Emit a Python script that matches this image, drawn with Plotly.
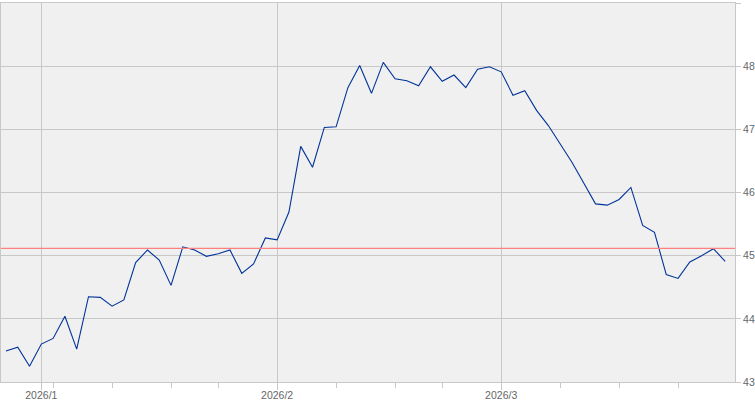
import plotly.graph_objects as go

# trading days, 2025/12/29 .. 2026/3/27
dates = [
    "2025-12-29", "2025-12-30", "2025-12-31",
    "2026-01-02", "2026-01-05", "2026-01-06", "2026-01-07", "2026-01-08", "2026-01-09",
    "2026-01-12", "2026-01-13", "2026-01-14", "2026-01-15", "2026-01-16",
    "2026-01-20", "2026-01-21", "2026-01-22", "2026-01-23",
    "2026-01-26", "2026-01-27", "2026-01-28", "2026-01-29", "2026-01-30",
    "2026-02-02", "2026-02-03", "2026-02-04", "2026-02-05", "2026-02-06",
    "2026-02-09", "2026-02-10", "2026-02-11", "2026-02-12", "2026-02-13",
    "2026-02-17", "2026-02-18", "2026-02-19", "2026-02-20",
    "2026-02-23", "2026-02-24", "2026-02-25", "2026-02-26", "2026-02-27",
    "2026-03-02", "2026-03-03", "2026-03-04", "2026-03-05", "2026-03-06",
    "2026-03-09", "2026-03-10", "2026-03-11", "2026-03-12", "2026-03-13",
    "2026-03-16", "2026-03-17", "2026-03-18", "2026-03-19", "2026-03-20",
    "2026-03-23", "2026-03-24", "2026-03-25", "2026-03-26", "2026-03-27",
]

prices = [
    43.49, 43.55, 43.25,
    43.60, 43.69, 44.04, 43.52, 44.35, 44.34,
    44.20, 44.30, 44.89, 45.09, 44.93,
    44.53, 45.14, 45.09, 44.99,
    45.03, 45.09, 44.72, 44.87, 45.28,
    45.25, 45.69, 46.73, 46.40, 47.03,
    47.04, 47.66, 48.01, 47.57, 48.06,
    47.80, 47.77, 47.69, 47.99,
    47.76, 47.86, 47.66, 47.95, 47.99,
    47.91, 47.54, 47.61, 47.30, 47.06,
    46.78, 46.48, 46.15, 45.82, 45.80,
    45.89, 46.08, 45.48, 45.37, 44.70,
    44.64, 44.90, 45.00, 45.11, 44.91,
]

ref_level = 45.115

month_starts = ["2026-01-02", "2026-02-02", "2026-03-02"]
month_labels = ["2026/1", "2026/2", "2026/3"]
week_starts = ["2026-01-05", "2026-01-12", "2026-01-20", "2026-01-26",
               "2026-02-09", "2026-02-17", "2026-02-23",
               "2026-03-09", "2026-03-16", "2026-03-23"]

x = list(range(len(dates)))
grid = "#c8c8c8"
font = dict(family="Liberation Sans", size=10.5, color="#666666")

fig = go.Figure()
fig.add_trace(go.Scatter(x=x, y=prices, mode="lines",
                         line=dict(color="#003399", width=1.1),
                         hoverinfo="skip"))
fig.add_hline(y=ref_level, line=dict(color="#ff8080", width=1.2))

fig.update_layout(
    width=755, height=400,
    margin=dict(l=1, r=20, t=3, b=18),
    paper_bgcolor="white", plot_bgcolor="#f0f0f0",
    showlegend=False,
    font=font,
    xaxis=dict(
        range=[-0.42, 61.83],
        automargin=False,
        tickmode="array",
        tickvals=[dates.index(d) for d in month_starts],
        ticktext=month_labels,
        ticks="outside", ticklen=7, tickcolor=grid, tickwidth=1,
        ticklabelstandoff=-4,
        showgrid=True, gridcolor=grid, gridwidth=1,
        showline=True, linecolor=grid, linewidth=1, mirror=True,
        zeroline=False,
        minor=dict(tickmode="array",
                   tickvals=[dates.index(d) for d in week_starts],
                   ticks="outside", ticklen=5, tickcolor=grid,
                   showgrid=False),
        tickfont=font,
    ),
    yaxis=dict(
        side="right",
        range=[43, 49],
        automargin=False,
        dtick=1,
        ticks="outside", ticklen=5, tickcolor=grid,
        showgrid=True, gridcolor=grid, gridwidth=1,
        showline=True, linecolor=grid, linewidth=1, mirror=True,
        zeroline=False,
        tickfont=font,
    ),
)

# drop the browser's default 8px body margin so the figure sits at 0,0
fig.write_html("out.html", config={"displayModeBar": False},
               post_script="document.body.style.margin='0';")
